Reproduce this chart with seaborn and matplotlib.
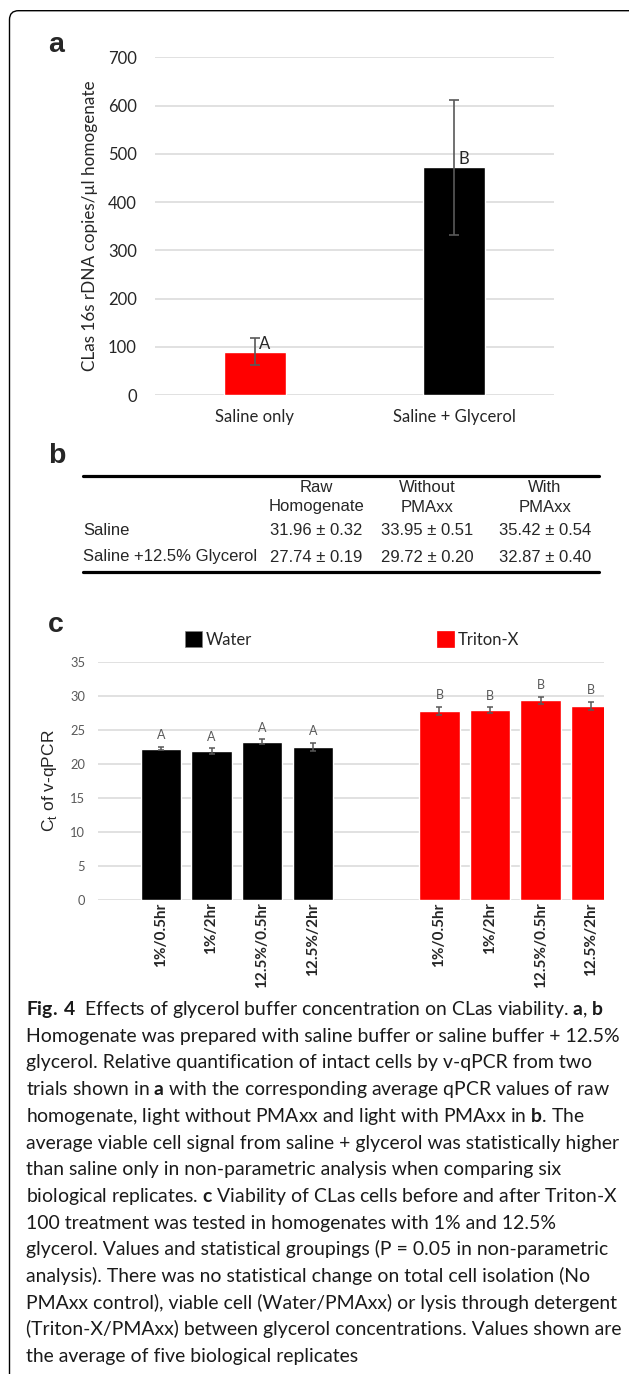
import matplotlib
matplotlib.use('Agg')  # no display
import matplotlib.pyplot as plt
from matplotlib.patches import FancyBboxPatch, Patch
from matplotlib.lines import Line2D
from matplotlib.transforms import IdentityTransform
import seaborn as sns
import pandas as pd

# ---- panel a: copies per ul homogenate ----
conditions_a = ["Saline only", "Saline + Glycerol"]
copies_a = [90, 472]
copies_err_a = [28, 140]
groups_a = ["A", "B"]

# ---- panel b: average qPCR table ----
table_cols = [["Raw", "Homogenate"], ["Without", "PMAxx"], ["With", "PMAxx"]]
table_rows = ["Saline", "Saline +12.5% Glycerol"]
table_mean = [[31.96, 33.95, 35.42], [27.74, 29.72, 32.87]]
table_sd = [[0.32, 0.51, 0.54], [0.19, 0.20, 0.40]]

# ---- panel c: Ct of v-qPCR ----
treatments = ["Water", "Triton-X"]
glycerol_time = ["1%/0.5hr", "1%/2hr", "12.5%/0.5hr", "12.5%/2hr"]
ct_water = [22.2, 21.85, 23.2, 22.45]
ct_water_err = [0.25, 0.45, 0.37, 0.6]
ct_triton = [27.75, 27.9, 29.35, 28.5]
ct_triton_err = [0.6, 0.4, 0.5, 0.6]
groups_c = ["A", "B"]

caption = [
    r"$\mathbf{Fig.\,4}$  Effects of glycerol buffer concentration on CLas viability. $\mathbf{a}$, $\mathbf{b}$",
    "Homogenate was prepared with saline buffer or saline buffer + 12.5%",
    "glycerol. Relative quantification of intact cells by v-qPCR from two",
    r"trials shown in $\mathbf{a}$ with the corresponding average qPCR values of raw",
    r"homogenate, light without PMAxx and light with PMAxx in $\mathbf{b}$. The",
    "average viable cell signal from saline + glycerol was statistically higher",
    "than saline only in non-parametric analysis when comparing six",
    r"biological replicates. $\mathbf{c}$ Viability of CLas cells before and after Triton-X",
    "100 treatment was tested in homogenates with 1% and 12.5%",
    "glycerol. Values and statistical groupings (P = 0.05 in non-parametric",
    "analysis). There was no statistical change on total cell isolation (No",
    "PMAxx control), viable cell (Water/PMAxx) or lysis through detergent",
    "(Triton-X/PMAxx) between glycerol concentrations. Values shown are",
    "the average of five biological replicates",
]

sns.set_style("white")
plt.rcParams['font.family'] = ['Lato', 'DejaVu Sans']
plt.rcParams['mathtext.fontset'] = 'custom'
plt.rcParams['mathtext.rm'] = 'Lato'
plt.rcParams['mathtext.bf'] = 'Lato:bold'
plt.rcParams['mathtext.sf'] = 'Liberation Sans'

W, H = 629, 1374
fig = plt.figure(figsize=(W / 100, H / 100), dpi=100)


def fx(x):
    return x / W


def fy(y):
    return 1 - y / H


ARIAL = ['Liberation Sans', 'DejaVu Sans']
GRID = '#d9d9d9'
ERR = '#595959'

# page frame (runs off right and bottom edges)
frame = FancyBboxPatch((9.5, -40), 700, H - 10.7 + 40,
                       boxstyle="round,pad=0,rounding_size=9",
                       transform=IdentityTransform(), fc='none', ec='black', lw=1.0)
fig.add_artist(frame)

for lab, (x, y) in zip("abc", [(56.5, 45), (56.7, 455.5), (56, 624.5)]):
    fig.text(fx(x), fy(y), lab, fontsize=20.5, fontweight='bold', family=ARIAL,
             ha='center', va='center')

# ---------------- panel a ----------------
ax_a = fig.add_axes([fx(155), fy(395), (554 - 155) / W, (395 - 57.3) / H])
df_a = pd.DataFrame({"condition": conditions_a, "copies": copies_a})
sns.barplot(data=df_a, x="condition", y="copies", hue="condition",
            palette=["#ff0000", "#000000"], saturation=1, width=0.31,
            legend=False, ax=ax_a)
ax_a.errorbar(range(len(copies_a)), copies_a, yerr=copies_err_a, fmt='none',
              ecolor=ERR, elinewidth=1.2, capsize=3.6, capthick=1.2, zorder=3)
for i, (v, g) in enumerate(zip(copies_a, groups_a)):
    ax_a.annotate(g, (i, v), xytext=(3, 0), textcoords='offset points',
                  ha='left', va='bottom', fontsize=12, color='#262626')
ax_a.set_ylim(0, 700)
ax_a.set_yticks(range(0, 701, 100))
ax_a.set_xlim(-0.5, 1.5)
ax_a.yaxis.grid(True, color=GRID, lw=1.1)
ax_a.set_axisbelow(True)
sns.despine(ax=ax_a, left=True, bottom=True)
ax_a.tick_params(length=0, labelsize=12, colors='#262626')
ax_a.tick_params(axis='y', pad=13)
ax_a.tick_params(axis='x', pad=10)
ax_a.set_xlabel("")
ax_a.set_ylabel("CLas 16s rDNA copies/µl homogenate", fontsize=12.3,
                labelpad=7, color='#262626')

# ---------------- panel b (table) ----------------
col_x = [316.5, 427, 545]
for y in (476, 572):
    fig.add_artist(Line2D([fx(83), fx(599)], [fy(y), fy(y)], lw=2.3, color='black'))
for cx, head in zip(col_x, table_cols):
    for k, part in enumerate(head):
        fig.text(fx(cx), fy(488 + 19 * k), part, fontsize=12, family=ARIAL,
                 ha='center', va='center')
for r, (name, means, sds) in enumerate(zip(table_rows, table_mean, table_sd)):
    y = 531 + 26 * r
    fig.text(fx(83), fy(y), name, fontsize=12, family=ARIAL, ha='left', va='center')
    for cx, m, s in zip(col_x, means, sds):
        fig.text(fx(cx), fy(y), f"{m:.2f} ± {s:.2f}", fontsize=12, family=ARIAL,
                 ha='center', va='center')

# ---------------- panel c ----------------
ax_c = fig.add_axes([fx(97.6), fy(899.7), (604 - 97.6) / W, 238 / H])
water_pos = [0, 1, 2, 3]
triton_pos = [5.5, 6.5, 7.5, 8.5]
df_c = pd.DataFrame({
    "pos": water_pos + triton_pos,
    "ct": ct_water + ct_triton,
    "treatment": [treatments[0]] * len(ct_water) + [treatments[1]] * len(ct_triton),
})
sns.barplot(data=df_c, x="pos", y="ct", hue="treatment",
            palette={treatments[0]: "#000000", treatments[1]: "#ff0000"},
            native_scale=True, dodge=False, width=0.8, saturation=1,
            legend=False, ax=ax_c)
for pos, vals, errs, g in [(water_pos, ct_water, ct_water_err, groups_c[0]),
                           (triton_pos, ct_triton, ct_triton_err, groups_c[1])]:
    ax_c.errorbar(pos, vals, yerr=errs, fmt='none', ecolor=ERR, elinewidth=1.1,
                  capsize=2.5, capthick=1.1, zorder=3)
    for p, v, e in zip(pos, vals, errs):
        ax_c.annotate(g, (p, v + e), xytext=(0, 4), textcoords='offset points',
                      ha='center', va='bottom', fontsize=9, color=ERR)
ax_c.set_ylim(0, 35)
ax_c.set_yticks(range(0, 36, 5))
ax_c.set_xlim(-1.25, 8.75)
ax_c.set_xticks(water_pos + triton_pos)
ax_c.set_xticklabels(glycerol_time * 2, rotation=90, fontweight='bold', fontsize=11)
ax_c.yaxis.grid(True, color=GRID, lw=1.1)
ax_c.set_axisbelow(True)
sns.despine(ax=ax_c, left=True, bottom=True)
ax_c.tick_params(length=0)
ax_c.tick_params(axis='y', labelsize=9.3, colors=ERR, pad=9)
ax_c.tick_params(axis='x', pad=2)
ax_c.set_xlabel("")
ax_c.set_ylabel(r"C$_\mathsf{t}$ of v-qPCR", fontsize=12.5, family=ARIAL, labelpad=8)

handles = [Patch(facecolor="#000000", edgecolor="#7f7f7f", lw=0.5),
           Patch(facecolor="#ff0000", edgecolor="#ff0000", lw=0.5)]
fig.legend(handles, treatments, loc='center left', bbox_to_anchor=(fx(185), fy(639.5)),
           ncol=2, frameon=False, fontsize=12, handlelength=1.0, handleheight=1.05,
           handletextpad=0.25, columnspacing=11.1, borderpad=0, borderaxespad=0,
           labelcolor='#262626')

# ---------------- caption ----------------
cap_texts = []
for i, line in enumerate(caption):
    cap_texts.append(fig.text(fx(26), fy(1015 + 26.7 * i), line, fontsize=13,
                              ha='left', va='baseline', color='#1a1a1a'))
fig.canvas.draw()
renderer = fig.canvas.get_renderer()
widest = cap_texts[5].get_window_extent(renderer).width
size = 13 * 590 / widest
for t in cap_texts:
    t.set_fontsize(size)

fig.savefig("out.png", dpi=100)
